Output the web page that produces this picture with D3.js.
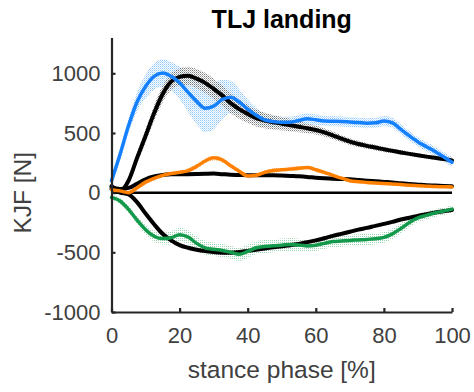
<!DOCTYPE html>
<html>
<head>
<meta charset="utf-8">
<script src="https://cdn.jsdelivr.net/npm/d3@7"></script>
<style>
  html, body { margin: 0; padding: 0; background: #fff; }
  svg { display: block; font-family: "Liberation Sans", Arial, sans-serif; }
</style>
</head>
<body>
<svg id="chart" width="474" height="392"></svg>
<script>
// Stance phase sample points (%)
const phase = [0, 2.5, 5, 7.5, 10, 12.5, 15, 17.5, 20, 22.5, 25, 27.5, 30, 32.5, 35, 37.5, 40,
  42.5, 45, 47.5, 50, 52.5, 55, 57.5, 60, 62.5, 65, 67.5, 70, 72.5, 75, 77.5, 80, 82.5, 85,
  87.5, 90, 92.5, 95, 97.5, 100];

// Measured knee joint force components, mean (N)
const blueMean = [100, 320, 560, 760, 890, 975, 1002, 975, 920, 840, 765, 708, 725, 780, 800, 760, 700,
  648, 610, 595, 590, 590, 605, 620, 610, 600, 598, 596, 592, 588, 582, 585, 600, 585, 530,
  475, 425, 385, 345, 300, 255];
const blueSd = [40, 50, 60, 80, 100, 110, 115, 120, 135, 165, 190, 200, 195, 165, 135, 105, 80,
  62, 52, 48, 46, 46, 46, 46, 44, 42, 42, 42, 42, 42, 42, 42, 42, 42, 42,
  40, 38, 38, 38, 40, 42];

const orangeMean = [25, 15, 0, 40, 88, 120, 145, 160, 170, 185, 220, 265, 292, 275, 225, 180, 140,
  145, 170, 185, 192, 198, 205, 210, 192, 170, 145, 122, 100, 92, 86, 81, 77, 73, 68,
  62, 57, 54, 51, 50, 48];
const orangeSd = [15, 15, 15, 18, 20, 20, 20, 20, 20, 22, 22, 24, 24, 22, 20, 20, 20,
  20, 20, 20, 20, 20, 20, 20, 18, 18, 16, 16, 15, 15, 15, 15, 14, 14, 14,
  14, 13, 13, 13, 12, 12];

const greenMean = [-40, -70, -140, -230, -310, -365, -385, -378, -352, -372, -425, -462, -475, -484, -500, -517, -492,
  -462, -452, -445, -440, -434, -438, -446, -440, -425, -410, -405, -400, -396, -392, -386, -375, -345, -300,
  -250, -212, -190, -170, -155, -138];
const greenSd = [20, 25, 30, 35, 40, 45, 50, 55, 58, 58, 58, 58, 55, 55, 55, 55, 55,
  55, 55, 55, 55, 55, 52, 50, 48, 48, 48, 48, 48, 48, 48, 48, 46, 44, 42,
  38, 36, 34, 32, 32, 32];

// Model predictions, mean (N)
const model1Mean = [55, 15, 100, 290, 475, 665, 825, 930, 970, 980, 955, 920, 870, 815, 750, 700, 660,
  625, 605, 590, 578, 565, 552, 540, 525, 505, 480, 452, 428, 408, 392, 378, 363, 350, 337,
  325, 313, 302, 292, 282, 270];
const model1Sd = [20, 20, 30, 45, 55, 65, 70, 70, 70, 75, 80, 85, 85, 85, 85, 80, 75,
  70, 65, 60, 55, 50, 45, 40, 38, 35, 32, 30, 28, 26, 25, 24, 22, 20, 20,
  18, 18, 16, 16, 15, 15];

const model2Mean = [45, 30, 40, 75, 112, 135, 148, 154, 155, 155, 156, 158, 160, 155, 150, 148, 146,
  146, 145, 145, 143, 140, 137, 132, 125, 120, 116, 114, 112, 106, 100, 95, 90, 85, 78,
  72, 67, 62, 59, 56, 54];
const model2Sd = [10, 10, 10, 12, 14, 15, 15, 15, 15, 15, 15, 15, 15, 15, 14, 14, 14,
  14, 14, 14, 14, 14, 14, 13, 13, 12, 12, 12, 12, 12, 12, 11, 11, 11, 10,
  10, 10, 10, 10, 10, 10];

const model3Mean = [30, 0, -15, -80, -175, -265, -345, -400, -440, -462, -478, -490, -498, -503, -503, -498, -488,
  -478, -468, -458, -450, -440, -430, -415, -400, -382, -362, -345, -328, -310, -295, -278, -262, -245, -225,
  -210, -195, -180, -167, -155, -145];
const model3Sd = [10, 10, 12, 14, 16, 18, 20, 20, 20, 20, 20, 20, 20, 20, 20, 20, 20,
  20, 20, 20, 20, 20, 20, 20, 18, 18, 18, 18, 16, 16, 16, 16, 15, 15, 15,
  14, 14, 14, 14, 14, 14];

const xTicks = [0, 20, 40, 60, 80, 100];
const yTicks = [-1000, -500, 0, 500, 1000];

const titleText = "TLJ landing";
const xLabel = "stance phase [%]";
const yLabel = "KJF [N]";

const svg = d3.select("#chart");
const W = 474, H = 392;
const margin = { left: 111.5, right: 474 - 452, top: 37.5, bottom: 392 - 312 };

const x = d3.scaleLinear().domain([0, 100]).range([margin.left, W - margin.right]);
const y = d3.scaleLinear().domain([-1000, 1300]).range([H - margin.bottom, margin.top]);

// Stipple patterns for the spread bands
const defs = svg.append("defs");
function stipple(id, dark, light, size) {
  const p = defs.append("pattern")
    .attr("id", id).attr("patternUnits", "userSpaceOnUse")
    .attr("width", size).attr("height", size);
  p.append("rect").attr("x", 0).attr("y", 0).attr("width", 1).attr("height", 1).attr("fill", dark);
  if (light) p.append("rect").attr("x", 1).attr("y", 1).attr("width", 1).attr("height", 1).attr("fill", light);
}
stipple("st-blue", "#8ec7ff", "#c4e1ff", 2);
stipple("st-gray", "#555555", "#a8a8a8", 2);
stipple("st-green", "#9ad6b0", null, 2);
stipple("st-orange", "#ffc58c", null, 2);

const bandGen = (mean, sd) => d3.area()
  .x((d, i) => x(phase[i]))
  .y0((d, i) => y(mean[i] - sd[i]))
  .y1((d, i) => y(mean[i] + sd[i]))
  .curve(d3.curveMonotoneX)(mean);

const lineGen = d3.line()
  .x((d, i) => x(phase[i]))
  .y(d => y(d))
  .curve(d3.curveMonotoneX);

const plot = svg.append("g");

// spread bands
plot.append("path").attr("d", bandGen(blueMean, blueSd)).attr("fill", "url(#st-blue)");
plot.append("path").attr("d", bandGen(model1Mean, model1Sd)).attr("fill", "url(#st-gray)").attr("opacity", 0.75);
plot.append("path").attr("d", bandGen(greenMean, greenSd)).attr("fill", "url(#st-green)");
plot.append("path").attr("d", bandGen(orangeMean, orangeSd)).attr("fill", "url(#st-orange)");
plot.append("path").attr("d", bandGen(model2Mean, model2Sd)).attr("fill", "url(#st-gray)").attr("opacity", 0.5);
plot.append("path").attr("d", bandGen(model3Mean, model3Sd)).attr("fill", "url(#st-gray)").attr("opacity", 0.5);

// zero reference
plot.append("line")
  .attr("x1", x(0)).attr("x2", x(100)).attr("y1", y(0)).attr("y2", y(0))
  .attr("stroke", "#000").attr("stroke-width", 2.5);

// model means
[model1Mean, model2Mean, model3Mean].forEach(m => {
  plot.append("path").attr("d", lineGen(m))
    .attr("fill", "none").attr("stroke", "#000").attr("stroke-width", 4)
    .attr("stroke-linejoin", "round").attr("stroke-linecap", "round");
});

// measured means
[[blueMean, "#1480ff"], [orangeMean, "#ff8000"], [greenMean, "#13994b"]].forEach(([m, c]) => {
  plot.append("path").attr("d", lineGen(m))
    .attr("fill", "none").attr("stroke", c).attr("stroke-width", 3.5)
    .attr("stroke-linejoin", "round").attr("stroke-linecap", "round");
});

// axes
const axisColor = "#262626";
const plain = d => String(d);
const gx = svg.append("g")
  .attr("transform", `translate(0,${y(-1000)})`)
  .call(d3.axisBottom(x).tickValues(xTicks).tickFormat(plain).tickSizeInner(-4).tickSizeOuter(0).tickPadding(15));
const gy = svg.append("g")
  .attr("transform", `translate(${x(0)},0)`)
  .call(d3.axisLeft(y).tickValues(yTicks).tickFormat(plain).tickSizeInner(-4).tickSizeOuter(0).tickPadding(11));

[gx, gy].forEach(g => {
  g.select(".domain").attr("stroke", axisColor).attr("stroke-width", 2.2);
  g.selectAll(".tick line").attr("stroke", axisColor).attr("stroke-width", 2.2);
  g.selectAll(".tick text").attr("fill", "#404040").attr("font-size", 22)
    .attr("font-family", "'Liberation Sans', Arial, sans-serif");
});

// labels
svg.append("text")
  .attr("x", (x(0) + x(100)) / 2).attr("y", 28)
  .attr("text-anchor", "middle").attr("font-weight", "bold")
  .attr("font-size", 25).attr("fill", "#000").text(titleText);

svg.append("text")
  .attr("x", (x(0) + x(100)) / 2).attr("y", 378)
  .attr("text-anchor", "middle").attr("font-size", 24.5).attr("fill", "#404040").text(xLabel);

svg.append("text")
  .attr("transform", `translate(31,${(y(-1000) + y(1300)) / 2 + 18}) rotate(-90)`)
  .attr("text-anchor", "middle").attr("font-size", 24.5).attr("fill", "#404040").text(yLabel);
</script>
</body>
</html>
